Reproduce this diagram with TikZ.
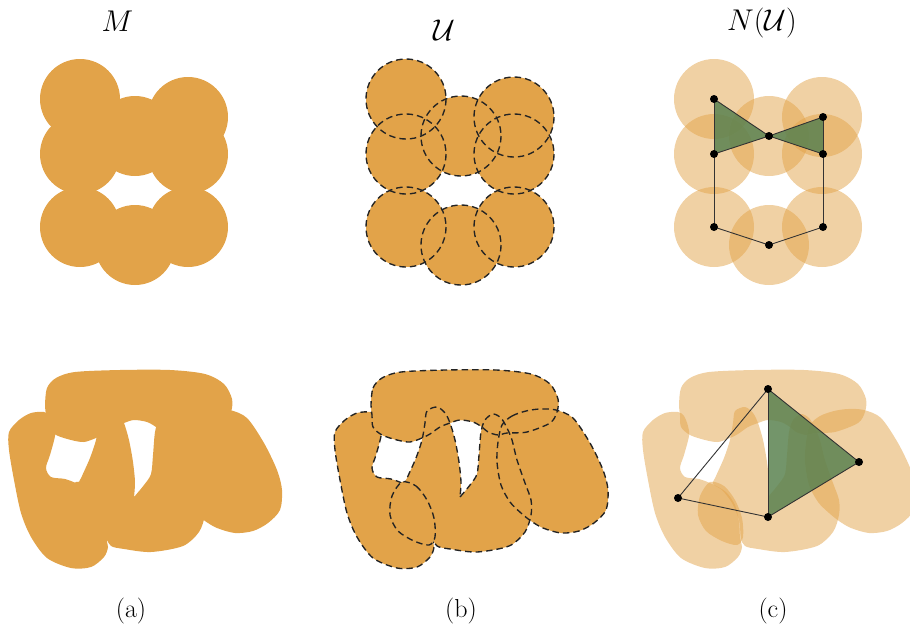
\RequirePackage{fix-cm}
\documentclass[tikz,border=0pt]{standalone}
\definecolor{mOrange}{RGB}{226,163,73}
\definecolor{mGreen}{RGB}{90,130,80}
\definecolor{mDash}{RGB}{35,35,35}
\tikzset{
  blob/.style={fill=mOrange},
  blobdash/.style={draw=mDash, line width=1.35pt, dash pattern=on 6.5pt off 4pt},
  blobtr/.style={fill=mOrange, fill opacity=0.5},
  vtx/.style={circle, fill=black, inner sep=0pt, minimum size=8pt},
  edgeline/.style={draw=black!80, line width=0.9pt},
  simplex/.style={fill=mGreen, fill opacity=0.85},
  ttl/.style={font=\fontsize{30}{34}\selectfont, anchor=base, inner sep=0pt},
  caplbl/.style={font=\fontsize{26}{30}\selectfont, anchor=base, inner sep=0pt},
}
% shapes of the lower row, in the coordinates of panel (a)
\def\shS{plot[smooth cycle] coordinates {(45,405) (47,388) (56,378) (75,372) (120,370) (170,370) (205,374) (224,384) (232,399) (231,412) (224,423) (201,432) (181,433) (172,435) (162,432) (156,427) (147,422) (134,420) (124,423) (114,427) (104,434) (96,438) (84,442) (71,440) (56,435) (47,427) (46,415)}}
\def\shL{plot[smooth cycle] coordinates {(44,412) (50,416) (54,426) (55,436) (50,455) (46,468) (51,477) (65,479) (78,484) (92,492) (101,505) (105,522) (106,538) (108,547) (104,557) (91,567) (71,568) (47,558) (31,537) (21,513) (14,480) (9,450) (9,432) (19,420) (31,413)}}
\def\shM{plot[smooth] coordinates {(134,497) (144,485) (151,474) (153,455) (155,432) (159,420) (167,414) (175,418) (181,428) (186,440) (191,460) (199,483) (205,500) (205,515) (199,532) (183,546) (151,552) (124,549) (111,546) (107,538) (105,520) (98,503) (88,490) (79,484) (82,476) (90,458) (96,440) (99,423) (101,411) (111,407) (119,413) (124,423) (129,440) (133,462) (135,482) (134,497)} -- cycle}
\def\shE{plot[smooth cycle] coordinates {(76,482) (90,486) (101,500) (108,518) (109,537) (103,545) (88,541) (72,531) (64,515) (66,496)}}
\def\shR{plot[smooth cycle] coordinates {(176,425) (186,416) (200,411) (214,409) (230,410) (247,418) (264,443) (277,470) (282,490) (280,510) (268,523) (253,531) (235,533) (217,528) (205,521) (195,513) (184,502) (175,485) (171,462) (172,442)}}
\begin{document}
\begin{tikzpicture}[x=1pt,y=-1pt]
\useasboundingbox (0,0) rectangle (910,629);

% ---------- titles and captions ----------
\node[ttl] (tM) at (117.5,31) {$M$};
\node[ttl] (tU) at (444,40) {$\mathcal{U}$};
\node[ttl] (tN) at (762,30) {$N(\mathcal{U})$};
\node[caplbl] (la) at (131,617) {(a)};
\node[caplbl] (lb) at (461,617) {(b)};
\node[caplbl] (lc) at (773,617) {(c)};

% ---------- (a) top ----------
\foreach \p in {(80,99),(80,154),(135,136),(188,117),(188,154),(80,227),(135,245),(188,227)}
  \fill[blob] \p circle[radius=40];

% ---------- (b) top ----------
\begin{scope}[xshift=326pt]
\foreach \p in {(80,99),(80,154),(135,136),(188,117),(188,154),(80,227),(135,245),(188,227)}
  \fill[blob] \p circle[radius=40];
\foreach \p in {(80,99),(80,154),(135,136),(188,117),(188,154),(80,227),(135,245),(188,227)}
  \draw[blobdash] \p circle[radius=40];
\end{scope}

% ---------- (c) top ----------
\begin{scope}[xshift=634pt]
\foreach \p in {(80,99),(80,154),(135,136),(188,117),(188,154),(80,227),(135,245),(188,227)}
  \fill[blobtr] \p circle[radius=40];
\end{scope}
\coordinate (c1) at (714,99);
\coordinate (c2) at (714,154);
\coordinate (c3) at (769,136);
\coordinate (c4) at (823,117);
\coordinate (c5) at (823,154);
\coordinate (c6) at (714,227);
\coordinate (c7) at (769,245);
\coordinate (c8) at (823,227);
\fill[simplex] (c1) -- (c3) -- (c2) -- cycle;
\fill[simplex] (c3) -- (c4) -- (c5) -- cycle;
\draw[edgeline] (c1) -- (c3);
\draw[edgeline] (c1) -- (c2);
\draw[edgeline] (c2) -- (c3);
\draw[edgeline] (c3) -- (c4);
\draw[edgeline] (c3) -- (c5);
\draw[edgeline] (c4) -- (c5);
\draw[edgeline] (c2) -- (c6);
\draw[edgeline] (c6) -- (c7);
\draw[edgeline] (c7) -- (c8);
\draw[edgeline] (c8) -- (c5);
\foreach \c in {c1,c2,c3,c4,c5,c6,c7,c8}
  \node[vtx] (v\c) at (\c) {};

% ---------- (a) bottom ----------
\fill[blob] \shS; \fill[blob] \shL; \fill[blob] \shM; \fill[blob] \shE; \fill[blob] \shR;

% ---------- (b) bottom ----------
\begin{scope}[xshift=326pt]
\fill[blob] \shS; \fill[blob] \shL; \fill[blob] \shM; \fill[blob] \shE; \fill[blob] \shR;
\draw[blobdash] \shL;
\fill[blob] \shS;
\draw[blobdash] \shM;
\fill[blob] \shE;
\draw[blobdash] \shS;
\draw[blobdash] \shE;
\draw[blobdash] \shR;
\end{scope}

% ---------- (c) bottom ----------
\begin{scope}[xshift=634pt]
\fill[blobtr] \shS; \fill[blobtr] \shL; \fill[blobtr] \shM; \fill[blobtr] \shE; \fill[blobtr] \shR;
\end{scope}
\coordinate (d1) at (768,389);
\coordinate (d2) at (859,462);
\coordinate (d3) at (768,517);
\coordinate (d4) at (678,498);
\fill[simplex] (d1) -- (d2) -- (d3) -- cycle;
\draw[edgeline] (d1) -- (d4);
\draw[edgeline] (d4) -- (d3);
\draw[edgeline] (d1) -- (d3);
\draw[edgeline] (d1) -- (d2);
\draw[edgeline] (d2) -- (d3);
\foreach \c in {d1,d2,d3,d4}
  \node[vtx] (v\c) at (\c) {};
\end{tikzpicture}
\end{document}
